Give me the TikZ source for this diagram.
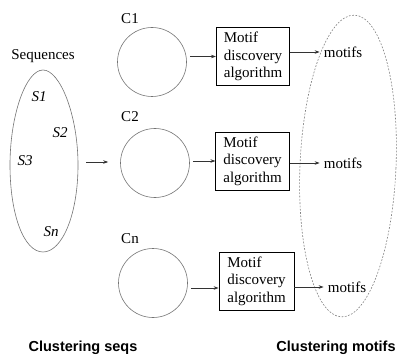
\documentclass[tikz,border=0pt]{standalone}
\usepackage{fontspec}
\setmainfont{Liberation Serif}
\newfontfamily\labfont{Liberation Sans}
\usetikzlibrary{arrows.meta}
\begin{document}
\begin{tikzpicture}[x=1pt,y=-1pt,
  lbl/.style={font=\fontsize{15}{17.5}\selectfont, inner sep=0pt},
  clu/.style={draw=black!55, line width=0.6pt, circle, minimum size=69pt, inner sep=0pt},
  algbox/.style={draw=black, line width=0.8pt, font=\fontsize{15}{17.5}\selectfont,
    align=left, inner xsep=7.5pt, inner ysep=0pt, minimum height=58pt},
  arr/.style={-{Stealth[length=5pt,width=3.5pt]}, line width=0.6pt, draw=black!80},
  capt/.style={font=\labfont\bfseries\fontsize{14.5}{17}\selectfont, inner sep=0pt}]
\useasboundingbox (0,0) rectangle (398,358);

% sequences group
\node[lbl] (seqlab) at (43,56) {Sequences};
\draw[draw=black!55, line width=0.6pt]
  (43,70) .. controls (60,70) and (78,115) .. (78,165)
  .. controls (78,215) and (62,252) .. (43,252)
  .. controls (24,252) and (10,215) .. (10,165)
  .. controls (10,115) and (26,70) .. (43,70);
\node[lbl, font=\fontsize{15}{17.5}\selectfont\itshape] (s1) at (39,97) {S1};
\node[lbl, font=\fontsize{15}{17.5}\selectfont\itshape] (s2) at (60,133) {S2};
\node[lbl, font=\fontsize{15}{17.5}\selectfont\itshape] (s3) at (25,161) {S3};
\node[lbl, font=\fontsize{15}{17.5}\selectfont\itshape] (sn) at (51,232) {Sn};
\coordinate (seqout) at (86,162);

% clusters
\node[clu] (c1) at (152,62) {};
\node[clu] (c2) at (155,163) {};
\node[clu] (cn) at (153,283) {};
\node[lbl] (c1lab) at (130,19) {C1};
\node[lbl] (c2lab) at (130,117) {C2};
\node[lbl] (cnlab) at (130,239) {Cn};

% algorithm boxes
\node[algbox, minimum width=72pt] (b1) at (253,56.5) {Motif\\discovery\\algorithm};
\node[algbox, minimum width=73pt] (b2) at (252.5,161) {Motif\\discovery\\algorithm};
\node[algbox, minimum width=75pt] (b3) at (256.5,281) {Motif\\discovery\\algorithm};

% motifs
\node[lbl] (m1) at (343,52) {motifs};
\node[lbl] (m2) at (343,163) {motifs};
\node[lbl] (m3) at (347,287) {motifs};
\draw[draw=black!50, line width=0.6pt, dash pattern=on 1.8pt off 1.5pt,
  rotate around={-2.5:(348,166)}] (348,166) ellipse [x radius=48, y radius=151];

% connectors
\draw[arr, shorten >=12pt] (seqout) -- (seqout -| c2.west);
\draw[arr] ([xshift=3pt]c1.east |- b1.west) -- (b1.west);
\draw[arr] ([xshift=3pt]c2.east |- b2.west) -- (b2.west);
\draw[arr] ([xshift=3pt,yshift=-5pt]cn.east) -- ([yshift=-5pt]cn.east -| b3.west);
\draw[arr] (b1.east |- m1.west) -- ([xshift=-4pt]m1.west);
\draw[arr] (b2.east |- m2.west) -- ([xshift=-4pt]m2.west);
\draw[arr] (b3.east |- m3.west) -- ([xshift=-4pt]m3.west);

% captions
\node[capt] (cap1) at (83,348) {Clustering seqs};
\node[capt] (cap2) at (336,348) {Clustering motifs};
\end{tikzpicture}
\end{document}
